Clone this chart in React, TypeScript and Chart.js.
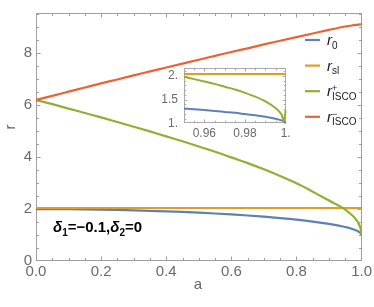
import React, { useEffect, useRef } from "react";
import { Chart, registerables } from "chart.js";

Chart.register(...registerables);

// ---- data ----
const spinA = [
  0, 0.05, 0.1, 0.15, 0.2, 0.25, 0.3, 0.35, 0.4, 0.45, 0.5, 0.55, 0.6, 0.65, 0.7, 0.75,
  0.8, 0.85, 0.9, 0.95, 0.955, 0.96, 0.965, 0.97, 0.975, 0.98, 0.985, 0.99, 0.995, 0.998,
  0.9992, 1,
];
const horizonR0 = [
  2.0, 2.0, 1.995, 1.988, 1.978, 1.966, 1.951, 1.933, 1.912, 1.888, 1.86, 1.829, 1.793,
  1.752, 1.706, 1.653, 1.592, 1.519, 1.428, 1.31, 1.295, 1.278, 1.26, 1.24, 1.22, 1.195,
  1.17, 1.137, 1.097, 1.062, 1.04, 1.0,
];
const staticLimitRsl = [
  2.04, 2.04, 2.04, 2.04, 2.04, 2.04, 2.04, 2.04, 2.04, 2.04, 2.04, 2.04, 2.04, 2.04,
  2.04, 2.04, 2.04, 2.04, 2.04, 2.04, 2.04, 2.04, 2.04, 2.04, 2.04, 2.04, 2.04, 2.04,
  2.04, 2.04, 2.04, 2.04,
];
const iscoPlus = [
  6.2, 6.04, 5.87, 5.7, 5.53, 5.35, 5.17, 4.99, 4.8, 4.61, 4.41, 4.21, 3.99, 3.77, 3.53,
  3.27, 2.99, 2.67, 2.33, 1.98, 1.93, 1.88, 1.83, 1.77, 1.71, 1.64, 1.56, 1.46, 1.32, 1.18,
  1.05, 1.28,
];
const iscoMinus = [
  6.2, 6.36, 6.52, 6.68, 6.84, 6.99, 7.15, 7.3, 7.45, 7.6, 7.75, 7.9, 8.05, 8.19, 8.34,
  8.48, 8.62, 8.76, 8.9, 9.03, 9.04, 9.05, 9.06, 9.07, 9.08, 9.09, 9.09, 9.1, 9.11, 9.11,
  9.12, 9.12,
];

const mainXTickValues = [0, 0.2, 0.4, 0.6, 0.8, 1];
const mainXTickLabels = ["0.0", "0.2", "0.4", "0.6", "0.8", "1.0"];
const mainYTickValues = [0, 2, 4, 6, 8];
const mainYTickLabels = ["0", "2", "4", "6", "8"];
const insetXTickValues = [0.96, 0.98, 1];
const insetXTickLabels = ["0.96", "0.98", "1."];
const insetYTickValues = [1, 1.5, 2];
const insetYTickLabels = ["1.", "1.5", "2."];

const xTitle = "a";
const yTitle = "r";
const legendEntries = [
  { base: "r", sub: "0", sup: "" },
  { base: "r", sub: "sl", sup: "" },
  { base: "r", sub: "ISCO", sup: "+" },
  { base: "r", sub: "ISCO", sup: "\u2212" },
];

const BLUE = "#5E81B5";
const ORANGE = "#E19C24";
const GREEN = "#8FB032";
const RED = "#EB6235";
const seriesColors = [BLUE, ORANGE, GREEN, RED];
const FONT = "'Liberation Sans', Arial, sans-serif";

function labelFor(values: number[], labels: string[]) {
  return (v: any) => {
    const i = values.findIndex((t) => Math.abs(t - Number(v)) < 1e-9);
    return i >= 0 ? labels[i] : "";
  };
}

const frameTicksPlugin = {
  id: "frameTicks",
  beforeDatasetsDraw(chart: any, _args: any, opts: any) {
    const { ctx, chartArea, scales } = chart;
    const xs = scales.x;
    const ys = scales.y;
    const L = Math.round(chartArea.left) + 0.5;
    const R = Math.round(chartArea.right) - 0.5;
    const T = Math.round(chartArea.top) + 0.5;
    const B = Math.round(chartArea.bottom) - 0.5;
    ctx.save();
    ctx.strokeStyle = opts.color;
    ctx.lineWidth = 1;
    ctx.strokeRect(L, T, R - L, B - T);
    ctx.beginPath();
    const nx = Math.round((opts.xMax - opts.xMin) / opts.xMinor);
    for (let i = 0; i <= nx; i++) {
      const v = opts.xMin + i * opts.xMinor;
      const q = v / opts.xMajor;
      const major = Math.abs(q - Math.round(q)) < 1e-6;
      const len = major ? opts.majorLen : opts.minorLen;
      const px = Math.round(xs.getPixelForValue(v)) + 0.5;
      if (px < L - 0.1 || px > R + 0.1) continue;
      ctx.moveTo(px, B);
      ctx.lineTo(px, B - len);
      ctx.moveTo(px, T);
      ctx.lineTo(px, T + len);
    }
    const ny = Math.round((opts.yMax - opts.yMin) / opts.yMinor);
    for (let i = 0; i <= ny; i++) {
      const v = opts.yMin + i * opts.yMinor;
      const q = v / opts.yMajor;
      const major = Math.abs(q - Math.round(q)) < 1e-6;
      const len = major ? opts.majorLen : opts.minorLen;
      const py = Math.round(ys.getPixelForValue(v)) + 0.5;
      if (py < T - 0.1 || py > B + 0.1) continue;
      ctx.moveTo(L, py);
      ctx.lineTo(L + len, py);
      ctx.moveTo(R, py);
      ctx.lineTo(R - len, py);
    }
    ctx.stroke();
    ctx.restore();
  },
};

type Seg = { text: string; font: string; dy?: number; noAdvance?: boolean };
function drawRich(ctx: CanvasRenderingContext2D, x: number, y: number, segs: Seg[]) {
  let cx = x;
  for (const s of segs) {
    ctx.font = s.font;
    ctx.fillText(s.text, cx, y + (s.dy || 0));
    if (!s.noAdvance) cx += ctx.measureText(s.text).width;
  }
}

const overlayPlugin = {
  id: "overlay",
  afterDraw(chart: any) {
    const { ctx } = chart;
    ctx.save();
    // axis titles
    ctx.fillStyle = "#666";
    ctx.font = `15px ${FONT}`;
    ctx.textAlign = "center";
    ctx.textBaseline = "middle";
    ctx.fillText(xTitle, 198, 285);
    ctx.save();
    ctx.translate(11, 127);
    ctx.rotate(-Math.PI / 2);
    ctx.fillText(yTitle, 0, 0);
    ctx.restore();

    // legend
    ctx.textAlign = "left";
    ctx.textBaseline = "alphabetic";
    const legendY = [40, 65.6, 91.2, 116.8];
    legendEntries.forEach((e, i) => {
      const y = legendY[i];
      ctx.strokeStyle = seriesColors[i];
      ctx.lineWidth = 2.2;
      ctx.beginPath();
      ctx.moveTo(305, y);
      ctx.lineTo(320, y);
      ctx.stroke();
      ctx.fillStyle = "#1a1a1a";
      const segs: Seg[] = [{ text: e.base, font: `italic 15px ${FONT}` }];
      if (e.sup) segs.push({ text: e.sup, font: `9px ${FONT}`, dy: -5, noAdvance: true });
      segs.push({ text: e.sub, font: `10px ${FONT}`, dy: 3.5 });
      drawRich(ctx, 327, y + 5, segs);
    });

    // annotation
    ctx.fillStyle = "#000";
    drawRich(ctx, 53, 232, [
      { text: "\u03b4", font: `italic bold 15px ${FONT}` },
      { text: "1", font: `bold 10px ${FONT}`, dy: 3.5 },
      { text: "=\u22120.1,", font: `bold 15px ${FONT}` },
      { text: "\u03b4", font: `italic bold 15px ${FONT}` },
      { text: "2", font: `bold 10px ${FONT}`, dy: 3.5 },
      { text: "=0", font: `bold 15px ${FONT}` },
    ]);
    ctx.restore();
  },
};

function makeDatasets(minA: number, width: number, clip: any) {
  const series = [horizonR0, staticLimitRsl, iscoPlus, iscoMinus];
  return series.map((arr, k) => ({
    data: spinA
      .map((a, i) => ({ x: a, y: arr[i] }))
      .filter((p) => p.x >= minA - 1e-9),
    borderColor: seriesColors[k],
    borderWidth: width,
    pointRadius: 0,
    fill: false,
    cubicInterpolationMode: "monotone" as const,
    order: 4 - k,
    clip,
  }));
}

export default function App() {
  const mainRef = useRef<HTMLCanvasElement>(null);
  const insetRef = useRef<HTMLCanvasElement>(null);

  useEffect(() => {
    const main = new Chart(mainRef.current!, {
      type: "line",
      data: { datasets: makeDatasets(0, 2.2, 0) as any },
      options: {
        animation: false,
        responsive: false,
        maintainAspectRatio: false,
        layout: { padding: { top: 1, right: 11.3, left: 0, bottom: 0 } },
        plugins: {
          legend: { display: false },
          tooltip: { enabled: false },
          frameTicks: {
            color: "#a0a0a0",
            xMin: 0, xMax: 1, xMinor: 0.05, xMajor: 0.2,
            yMin: 0, yMax: 9.5, yMinor: 0.5, yMajor: 2,
            majorLen: 4, minorLen: 2.5,
          },
        } as any,
        scales: {
          x: {
            type: "linear",
            min: 0,
            max: 1,
            grid: { display: false, drawTicks: false },
            border: { display: false },
            ticks: {
              padding: 2,
              color: "#6a6a6a",
              font: { family: FONT, size: 15 },
              maxRotation: 0,
              autoSkip: false,
              callback: labelFor(mainXTickValues, mainXTickLabels),
            },
            afterBuildTicks: (s: any) => {
              s.ticks = mainXTickValues.map((v) => ({ value: v }));
            },
            afterFit: (s: any) => {
              s.height = 46;
            },
          },
          y: {
            type: "linear",
            min: 0,
            max: 9.55,
            grid: { display: false, drawTicks: false },
            border: { display: false },
            ticks: {
              padding: 4,
              color: "#6a6a6a",
              font: { family: FONT, size: 15 },
              autoSkip: false,
              callback: labelFor(mainYTickValues, mainYTickLabels),
            },
            afterBuildTicks: (s: any) => {
              s.ticks = mainYTickValues.map((v) => ({ value: v }));
            },
            afterFit: (s: any) => {
              s.width = 36;
            },
          },
        },
      },
      plugins: [frameTicksPlugin, overlayPlugin],
    });

    const inset = new Chart(insetRef.current!, {
      type: "line",
      data: { datasets: makeDatasets(0.95, 2.0, { left: 0, top: 0, bottom: 1, right: 1 }) as any },
      options: {
        animation: false,
        responsive: false,
        maintainAspectRatio: false,
        layout: { padding: { top: 5, right: 9.3, left: 0, bottom: 0 } },
        plugins: {
          legend: { display: false },
          tooltip: { enabled: false },
          frameTicks: {
            color: "#aaa",
            xMin: 0.95, xMax: 1, xMinor: 0.005, xMajor: 0.02,
            yMin: 1, yMax: 2.1, yMinor: 0.1, yMajor: 0.5,
            majorLen: 3, minorLen: 1.8,
          },
        } as any,
        scales: {
          x: {
            type: "linear",
            min: 0.95,
            max: 1,
            grid: { display: false, drawTicks: false },
            border: { display: false },
            ticks: {
              padding: 3,
              color: "#6a6a6a",
              font: { family: FONT, size: 12 },
              maxRotation: 0,
              autoSkip: false,
              callback: labelFor(insetXTickValues, insetXTickLabels),
            },
            afterBuildTicks: (s: any) => {
              s.ticks = insetXTickValues.map((v) => ({ value: v }));
            },
            afterFit: (s: any) => {
              s.height = 21.7;
            },
          },
          y: {
            type: "linear",
            min: 1,
            max: 2.16,
            grid: { display: false, drawTicks: false },
            border: { display: false },
            ticks: {
              padding: 6,
              color: "#6a6a6a",
              font: { family: FONT, size: 12 },
              autoSkip: false,
              callback: labelFor(insetYTickValues, insetYTickLabels),
            },
            afterBuildTicks: (s: any) => {
              s.ticks = insetYTickValues.map((v) => ({ value: v }));
            },
            afterFit: (s: any) => {
              s.width = 34;
            },
          },
        },
      },
      plugins: [frameTicksPlugin],
    });

    return () => {
      main.destroy();
      inset.destroy();
    };
  }, []);

  return (
    <div style={{ position: "fixed", left: 0, top: 0, width: 374, height: 307, background: "#fff" }}>
      <canvas
        ref={mainRef}
        width={374}
        height={307}
        style={{ position: "absolute", left: 0, top: 0, width: 374, height: 307 }}
      />
      <canvas
        ref={insetRef}
        width={145}
        height={90}
        style={{ position: "absolute", left: 150, top: 55, width: 145, height: 90 }}
      />
    </div>
  );
}
